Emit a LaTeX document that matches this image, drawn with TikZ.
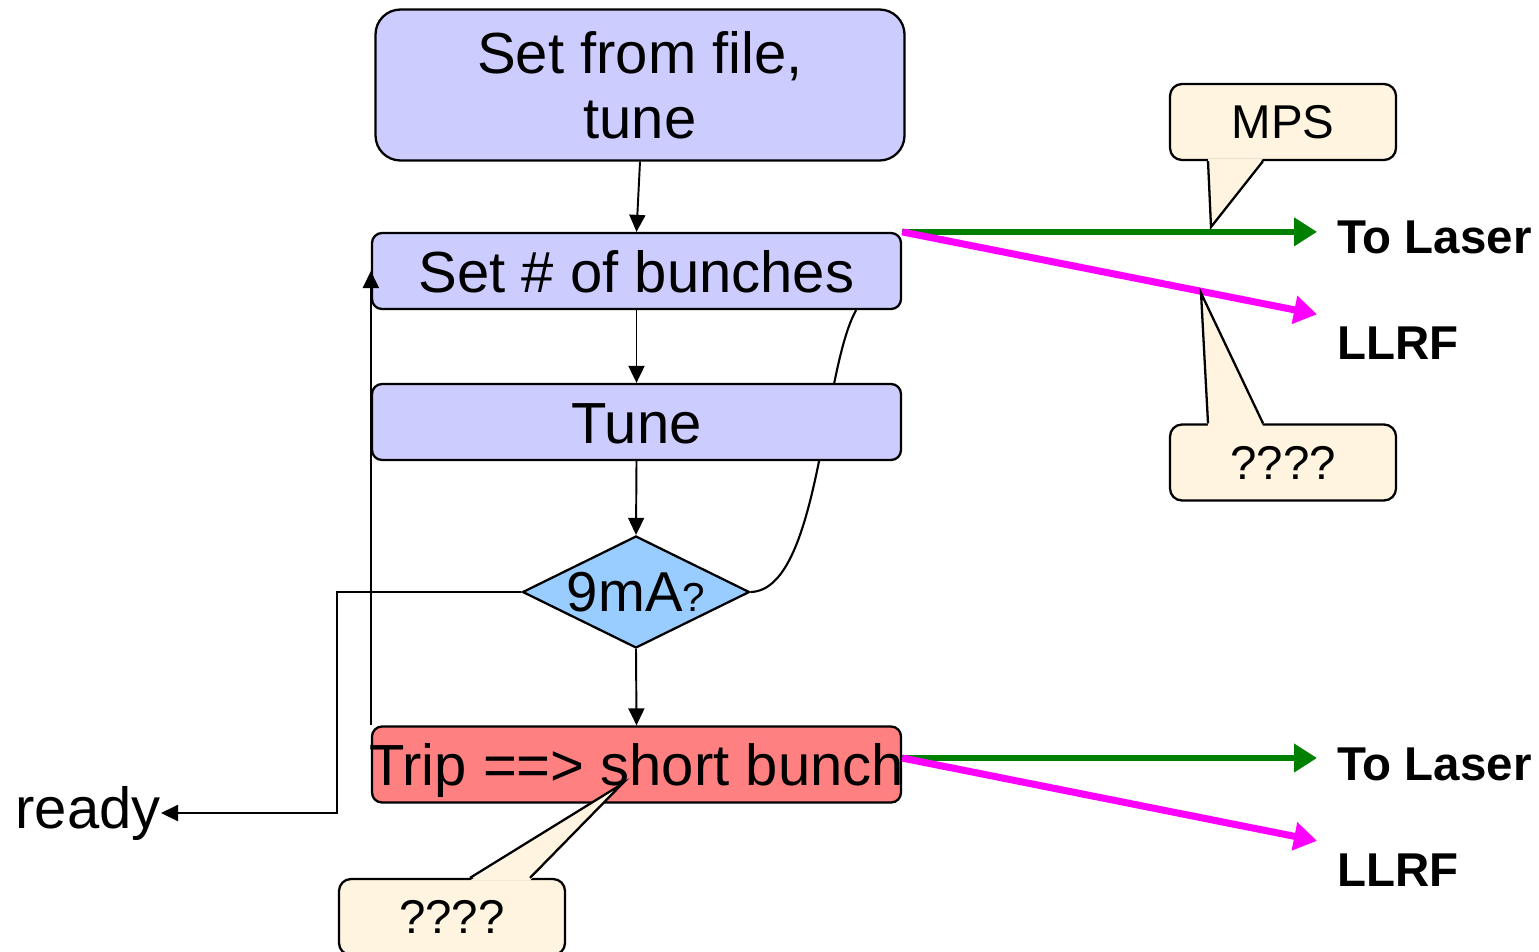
\documentclass[tikz,border=0pt]{standalone}
\usepackage{fontspec}
\setmainfont{Liberation Sans}
\usetikzlibrary{shapes.geometric,arrows.meta,backgrounds}

\definecolor{boxblue}{HTML}{CCCCFF}
\definecolor{diamblue}{HTML}{99CCFF}
\definecolor{tripred}{HTML}{FF8080}
\definecolor{notecream}{HTML}{FFF4E0}
\definecolor{lasergreen}{HTML}{008000}
\definecolor{rfmagenta}{HTML}{FF00FF}

\tikzset{
    stepbox/.style={draw, line width=1.3pt, fill=boxblue, rounded corners=0.2cm,
        minimum width=10.58cm, minimum height=1.52cm, inner sep=0pt,
        font=\fontsize{33}{37}\selectfont},
    flow/.style={->, line width=1.1pt},
    note/.style={draw, line width=1.3pt, fill=notecream, rounded corners=0.24cm,
        minimum width=4.52cm, minimum height=1.52cm, inner sep=0pt,
        font=\fontsize{27}{30}\selectfont},
    outlabel/.style={anchor=west, inner sep=0.4cm, font=\fontsize{27}{30}\selectfont\bfseries},
    signal/.style={-{Triangle[length=0.46cm,width=0.55cm]}, line width=3.2pt}
}

\begin{document}
\begin{tikzpicture}[>={Triangle[length=0.34cm,width=0.32cm]}]
    \useasboundingbox (0,0) rectangle (30.78,-19.02);

    % flow chart
    \node[stepbox, align=center, minimum height=3.02cm, rounded corners=0.5cm] (file) at (12.80,-1.70) {Set from file,\\tune};
    \node[stepbox, text height=24pt, text depth=0pt] (bunches) at (12.73,-5.42) {Set \# of bunches};
    \node[stepbox, text height=24pt, text depth=0pt] (tune) at (12.73,-8.44) {Tune};
    \node[draw, shape=diamond, line width=1.3pt, fill=diamblue, inner sep=0pt,
        minimum width=4.54cm, minimum height=2.24cm, font=\fontsize{32}{34}\selectfont]
        (check) at (12.72,-11.84) {\makebox[0pt]{9mA{\fontsize{23}{25}\selectfont ?}}};
    \node[stepbox, fill=tripred, text height=24pt, text depth=0pt] (trip) at (12.73,-15.29) {\makebox[0pt]{Trip ==> short bunch}};
    \node[anchor=east, inner sep=0pt, font=\fontsize{33}{37}\selectfont] (ready) at (3.22,-16.26) {ready};

    \draw[flow] (file.south) -- (bunches.north);
    \draw[flow] (bunches.south) -- (tune.north);
    \draw[flow] (tune.south) -- (check.north);
    \draw[flow] (check.south) -- (trip.north);
    \draw[flow] (trip.north west) -- (bunches.west);
    \draw[flow] (check.west) -- ++(-3.68,0) |- (ready.east);
    \begin{pgfonlayer}{background}
        \draw[line width=1.2pt] (check.east) .. controls (16.40,-11.80) and (16.44,-7.40) .. ([xshift=-0.92cm]bunches.south east);
    \end{pgfonlayer}

    % outputs
    \node[outlabel] (laserA) at (26.34,-4.74) {To Laser};
    \node[outlabel] (llrfA) at (26.34,-6.87) {LLRF};
    \node[outlabel] (laserB) at (26.34,-15.28) {To Laser};
    \node[outlabel] (llrfB) at (26.34,-17.40) {LLRF};
    \coordinate (tripout) at ([yshift=0.13cm]trip.east);

    \draw[signal, lasergreen] (bunches.north east) -- (bunches.north east -| laserA.west);
    \draw[signal, rfmagenta, line width=4pt] (bunches.north east) -- ([yshift=-0.15cm]llrfA.north west);
    \draw[signal, lasergreen] (tripout) -- (tripout -| laserB.west);
    \draw[signal, rfmagenta, line width=4pt] (tripout) -- ([yshift=-0.15cm]llrfB.north west);

    % callouts
    \node[note] (mps) at (25.66,-2.44) {MPS};
    \node[note] (askA) at (25.66,-9.25) {????};
    \node[note] (askB) at (9.04,-18.34) {????};
    \coordinate (mpstip) at (24.22,-4.54);
    \coordinate (askAtip) at (24.02,-5.86);
    \coordinate (askBtip) at (12.44,-15.68);

    \fill[notecream] ([xshift=-1.5cm,yshift=1.5pt]mps.south) -- (mpstip) -- ([xshift=-0.4cm,yshift=1.5pt]mps.south) -- cycle;
    \draw[line width=1.3pt] ([xshift=-1.5cm]mps.south) -- (mpstip) -- ([xshift=-0.4cm]mps.south);
    \fill[notecream] ([xshift=-1.5cm,yshift=-1.5pt]askA.north) -- (askAtip) -- ([xshift=-0.4cm,yshift=-1.5pt]askA.north) -- cycle;
    \draw[line width=1.3pt] ([xshift=-1.5cm]askA.north) -- (askAtip) -- ([xshift=-0.4cm]askA.north);
    \fill[notecream] ([xshift=0.36cm,yshift=-1.5pt]askB.north) -- (askBtip) -- ([xshift=1.56cm,yshift=-1.5pt]askB.north) -- cycle;
    \draw[line width=1.3pt] ([xshift=0.36cm]askB.north) -- (askBtip) -- ([xshift=1.56cm]askB.north);
\end{tikzpicture}
\end{document}
